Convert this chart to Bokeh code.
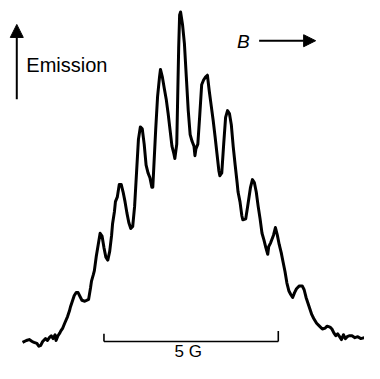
from bokeh.plotting import figure
from bokeh.models import Range1d, Arrow, NormalHead
from bokeh.core.properties import value
from bokeh.embed import file_html
from bokeh.resources import INLINE

# magnetic field (arbitrary units along the sweep) and emission intensity (arbitrary units)
field = [23, 27, 30, 33, 35, 38, 40, 42, 44, 47, 49, 51, 53, 55, 57, 58, 60, 62, 63, 65,
         67, 70, 72, 73, 75, 77, 79, 81, 83, 85, 88, 92, 94, 95, 97, 98, 100, 102, 104, 106,
         108, 110, 112, 114, 116, 117, 119, 120, 122, 124, 126, 128, 130, 132, 134, 136, 138, 140, 142, 144,
         146, 148, 150, 152, 154, 156, 158, 159, 160, 162, 164, 166, 167, 169, 171, 173, 175, 177, 179, 181,
         182, 184, 185, 186, 187, 188, 190, 192, 194, 196, 198, 200, 202, 203, 204, 206, 208, 210, 212, 214,
         216, 218, 220, 222, 224, 226, 228, 229, 231, 233, 235, 237, 239, 241, 243, 245, 247, 248, 250, 252,
         253, 256, 258, 261, 263, 265, 267, 269, 271, 273, 275, 277, 279, 280, 282, 285, 287, 289, 291, 293,
         295, 297, 299, 301, 303, 305, 307, 309, 312, 315, 317, 319, 321, 323, 325, 327, 330, 333, 336, 339,
         341, 344, 346, 348, 350, 352, 354, 356, 358, 360, 362, 364, 367, 370, 373, 376, 380]
emission = [22, 24, 25, 23, 22, 21, 18, 19, 23, 26, 24, 27, 29, 26, 30, 24, 29, 32, 34, 37,
            42, 49, 55, 59, 65, 71, 74, 74, 70, 66, 65, 67, 79, 86, 93, 97, 112, 124, 136, 133,
            121, 111, 108, 117, 134, 146, 159, 169, 174, 187, 187, 179, 169, 157, 147, 141, 143, 164, 199, 234,
            247, 245, 229, 207, 199, 194, 184, 184, 204, 244, 279, 299, 307, 299, 287, 276, 261, 244, 227, 219,
            214, 229, 279, 329, 364, 367, 354, 334, 299, 264, 239, 232, 227, 217, 224, 229, 259, 291, 296, 299,
            301, 284, 269, 254, 237, 219, 201, 196, 199, 229, 257, 264, 261, 249, 226, 207, 189, 179, 169, 154,
            150, 151, 164, 184, 192, 189, 179, 164, 151, 136, 129, 121, 114, 122, 126, 134, 142, 134, 124, 116,
            106, 96, 84, 76, 72, 69, 74, 78, 81, 81, 77, 69, 63, 57, 51, 47, 42, 39, 36, 37,
            39, 38, 36, 32, 29, 31, 28, 25, 30, 26, 28, 29, 29, 27, 28, 26, 27]

# 5 G scale bar: ends along the field axis, level and tick tops
scale_x = [108, 290]
scale_y = 23
scale_tick_top = [31, 34]
scale_label = "5 G"

p = figure(width=364, height=363, output_backend="svg", toolbar_location=None,
           x_range=Range1d(0, 380), y_range=Range1d(0, 379), min_border=0)
p.axis.visible = False
p.xgrid.visible = False
p.ygrid.visible = False
p.outline_line_color = None
p.background_fill_color = "white"
p.border_fill_color = "white"

p.line(field, emission, line_color="black", line_width=3, line_join="round")

# scale bar
p.line(scale_x, [scale_y, scale_y], line_color="black", line_width=1.6)
p.segment(x0=scale_x, y0=[scale_y, scale_y], x1=scale_x, y1=scale_tick_top,
          line_color="black", line_width=1.6)
p.text(x=[(scale_x[0] + scale_x[1]) / 2 - 3], y=[13], text=[scale_label],
       text_font=value("Liberation Sans"), text_font_size="17px",
       text_align="center", text_baseline="middle", text_color="black")

# Emission arrow and label
p.add_layout(Arrow(x_start=17, y_start=276, x_end=17, y_end=354,
                   line_color="black", line_width=2,
                   end=NormalHead(size=13, fill_color="black", line_color="black")))
p.text(x=[27], y=[312], text=["Emission"], text_font=value("Liberation Sans"),
       text_font_size="20px", text_align="left", text_baseline="middle", text_color="black")

# B arrow and label
p.text(x=[247], y=[336], text=["B"], text_font=value("Liberation Sans"),
       text_font_size="19px", text_font_style="italic",
       text_align="left", text_baseline="middle", text_color="black")
p.add_layout(Arrow(x_start=270, y_start=337, x_end=329, y_end=337,
                   line_color="black", line_width=2,
                   end=NormalHead(size=12, fill_color="black", line_color="black")))

open("out.html", "w").write(file_html(p, INLINE))
